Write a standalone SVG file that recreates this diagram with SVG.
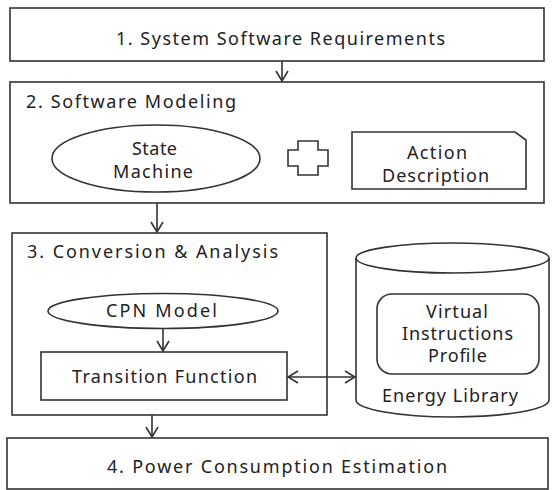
<svg xmlns="http://www.w3.org/2000/svg" width="552" height="490" viewBox="0 0 552 490">
<defs>
<style>
.s{fill:#fff;stroke:#333;stroke-width:1.6}
.n{fill:none;stroke:#333;stroke-width:1.6}
text{font-family:"Noto Sans","Open Sans","DejaVu Sans",sans-serif;font-size:18px;fill:#222}
.c{text-anchor:middle}
</style>
<marker id="ah" markerUnits="userSpaceOnUse" markerWidth="12" markerHeight="14" viewBox="0 0 12 14" refX="11" refY="7" orient="auto-start-reverse">
<path d="M1,1 L11,7 L1,13" fill="none" stroke="#333" stroke-width="1.6"/>
</marker>
</defs>
<rect width="552" height="490" fill="#fff"/>
<g id="n1">
<rect class="s" x="10" y="8" width="534" height="53"/>
<text x="116" y="45" textLength="329" lengthAdjust="spacing">1. System  Software Requirements</text>
</g>
<g id="n2">
<rect class="s" x="10" y="82" width="534" height="121"/>
<text x="26" y="108" textLength="210" lengthAdjust="spacing">2. Software Modeling</text>
</g>
<g id="state">
<ellipse class="s" cx="156" cy="158.5" rx="104" ry="33.5"/>
<text x="132" y="155" textLength="45" lengthAdjust="spacing">State</text>
<text x="113" y="178" textLength="80" lengthAdjust="spacing">Machine</text>
</g>
<g id="plus">
<path class="s" d="M298,141 L318,141 L318,150 L328,150 L328,166 L318,166 L318,175 L298,175 L298,166 L288,166 L288,150 L298,150 Z"/>
</g>
<g id="action">
<path class="s" d="M352,132 L515,132 L526,140 L526,189 L352,189 Z"/>
<text x="407" y="159" textLength="60" lengthAdjust="spacing">Action</text>
<text x="382" y="182" textLength="107" lengthAdjust="spacing">Description</text>
</g>
<g id="n3">
<rect class="s" x="12" y="233" width="315" height="182"/>
<text x="27" y="258" textLength="251" lengthAdjust="spacing">3. Conversion &amp;  Analysis</text>
</g>
<g id="cpn">
<ellipse class="s" cx="163" cy="311" rx="115" ry="17.5"/>
<text x="106" y="317" textLength="111" lengthAdjust="spacing">CPN Model</text>
</g>
<g id="transition">
<rect class="s" x="41" y="352" width="246" height="48"/>
<text x="72" y="383" textLength="185" lengthAdjust="spacing">Transition Function</text>
</g>
<g id="energy">
<path class="s" d="M356,258 L356,400 A96.5,17 0 0 0 549,400 L549,258"/>
<ellipse class="s" cx="452.5" cy="258" rx="96.5" ry="15"/>
<text x="382" y="402" textLength="136" lengthAdjust="spacing">Energy Library</text>
</g>
<g id="profile">
<rect class="s" x="377" y="294" width="162" height="80" rx="15"/>
<text x="426" y="318" textLength="62" lengthAdjust="spacing">Virtual</text>
<text x="402" y="340" textLength="111" lengthAdjust="spacing">Instructions</text>
<text x="428" y="362" textLength="59" lengthAdjust="spacing">Profile</text>
</g>
<g id="n4">
<rect class="s" x="7" y="438" width="541" height="51"/>
<text x="107" y="473" textLength="340" lengthAdjust="spacing">4. Power Consumption  Estimation</text>
</g>
<g id="connectors">
<line class="n" x1="282" y1="61" x2="282" y2="81" marker-end="url(#ah)"/>
<line class="n" x1="157" y1="203" x2="157" y2="232" marker-end="url(#ah)"/>
<line class="n" x1="163" y1="329" x2="163" y2="351" marker-end="url(#ah)"/>
<line class="n" x1="288" y1="377" x2="355" y2="377" marker-start="url(#ah)" marker-end="url(#ah)"/>
<line class="n" x1="152" y1="415" x2="152" y2="437" marker-end="url(#ah)"/>
</g>
</svg>
